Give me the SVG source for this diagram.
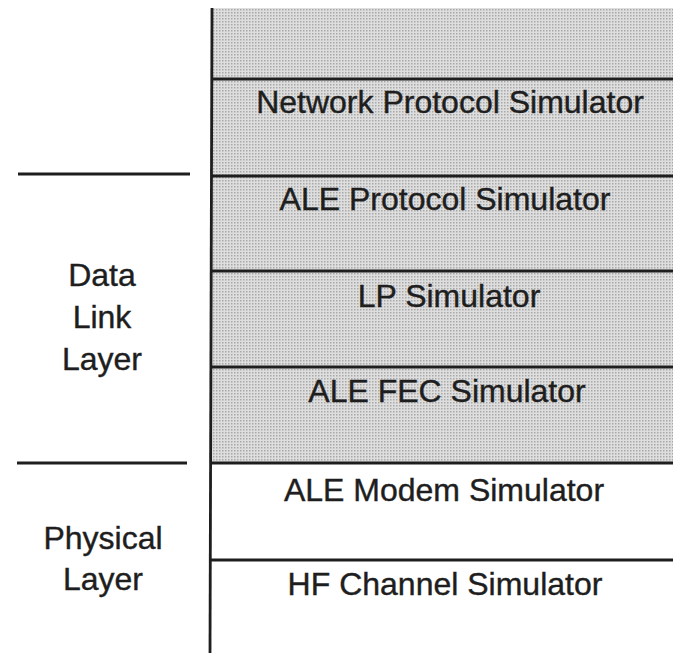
<svg xmlns="http://www.w3.org/2000/svg" width="673" height="653" viewBox="0 0 673 653">
<defs>
<pattern id="dots" width="3" height="3" patternUnits="userSpaceOnUse">
<rect width="3" height="3" fill="#dedede"/>
<rect width="1.5" height="1.5" fill="#a8a8a8"/>
</pattern>
<style>
.t{font-family:"Liberation Sans",Arial,Helvetica,sans-serif;font-size:32px;fill:#1e1e1e;stroke:#1e1e1e;stroke-width:0.4;text-anchor:middle}
.ln{stroke:#1e1e1e;stroke-width:2.8;fill:none}
</style>
</defs>
<rect width="673" height="653" fill="#fff"/>
<rect x="212" y="8" width="461" height="455" fill="url(#dots)"/>
<g id="connectors">
<line class="ln" x1="212" y1="8" x2="210" y2="653"/>
<line class="ln" x1="212" y1="79" x2="673" y2="79"/>
<line class="ln" x1="212" y1="176" x2="673" y2="176"/>
<line class="ln" x1="212" y1="271" x2="673" y2="271"/>
<line class="ln" x1="212" y1="367" x2="673" y2="367"/>
<line class="ln" x1="211" y1="463" x2="673" y2="463"/>
<line class="ln" x1="211" y1="560" x2="673" y2="560"/>
<line class="ln" x1="18" y1="174" x2="190" y2="174"/>
<line class="ln" x1="17" y1="463" x2="187" y2="463"/>
</g>
<g id="network"><text class="t" x="450" y="113">Network Protocol Simulator</text></g>
<g id="aleprotocol"><text class="t" x="445" y="210">ALE Protocol Simulator</text></g>
<g id="lp"><text class="t" x="449" y="307">LP Simulator</text></g>
<g id="alefec"><text class="t" x="447" y="402">ALE FEC Simulator</text></g>
<g id="alemodem"><text class="t" x="444" y="501">ALE Modem Simulator</text></g>
<g id="hfchannel"><text class="t" x="445" y="595">HF Channel Simulator</text></g>
<g id="datalink"><text class="t" x="102" y="286">Data</text><text class="t" x="102" y="328">Link</text><text class="t" x="102" y="370">Layer</text></g>
<g id="physical"><text class="t" x="103" y="549">Physical</text><text class="t" x="103" y="590">Layer</text></g>
</svg>
